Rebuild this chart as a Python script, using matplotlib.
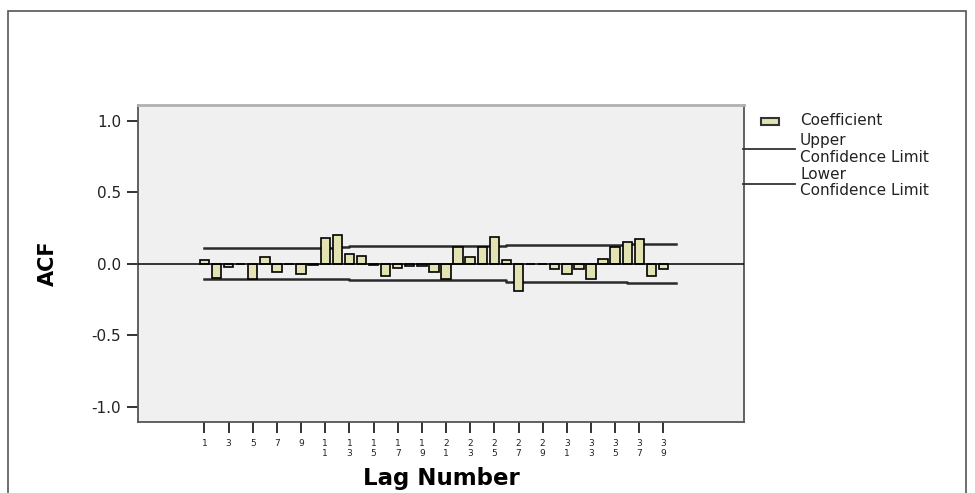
# ---------------------------------------------------------------------
#  Importando bibliotecas
# ---------------------------------------------------------------------

import matplotlib
matplotlib.use('Agg')
import matplotlib.pyplot as plt
from matplotlib.lines import Line2D
from matplotlib.patches import Rectangle

plt.rcParams['font.family'] = ['DejaVu Sans']

# ---------------------------------------------------------------------
#  Dados (ACF por lag)
# ---------------------------------------------------------------------

lags = list(range(1, 40))

acf = [0.025, -0.10, -0.025, -0.005, -0.11, 0.05, -0.06, -0.005, -0.07, -0.01,
       0.18, 0.20, 0.07, 0.055, -0.01, -0.088, -0.03, -0.018, -0.018, -0.055,
       -0.108, 0.115, 0.047, 0.118, 0.185, 0.025, -0.19, -0.005, -0.005, -0.04,
       -0.07, -0.04, -0.11, 0.03, 0.115, 0.15, 0.17, -0.085, -0.04]

upper_limit = [0.113, 0.113, 0.113, 0.113, 0.113, 0.113, 0.113, 0.113, 0.113, 0.113,
               0.113, 0.117, 0.125, 0.125, 0.125, 0.125, 0.125, 0.125, 0.125, 0.125,
               0.125, 0.125, 0.125, 0.125, 0.125, 0.132, 0.132, 0.132, 0.132, 0.132,
               0.132, 0.132, 0.132, 0.132, 0.132, 0.140, 0.140, 0.140, 0.140]

lower_limit = [-0.107, -0.107, -0.107, -0.107, -0.107, -0.107, -0.107, -0.107, -0.107, -0.107,
               -0.107, -0.110, -0.117, -0.117, -0.117, -0.117, -0.117, -0.117, -0.117, -0.117,
               -0.117, -0.117, -0.117, -0.117, -0.117, -0.127, -0.127, -0.127, -0.127, -0.127,
               -0.127, -0.127, -0.127, -0.127, -0.127, -0.134, -0.134, -0.134, -0.134]

x_ticks = [1, 3, 5, 7, 9, 11, 13, 15, 17, 19, 21, 23, 25, 27, 29, 31, 33, 35, 37, 39]
x_tick_labels = ['\n'.join(str(k)) for k in x_ticks]  # digitos empilhados, estilo SPSS

y_ticks = [-1.0, -0.5, 0.0, 0.5, 1.0]
y_tick_labels = ['-1.0', '-0.5', '0.0', '0.5', '1.0']

# ---------------------------------------------------------------------
#  Figura e eixos
# ---------------------------------------------------------------------

fig = plt.figure(figsize=(9.75, 4.93), dpi=100)
ax = fig.add_axes([0.1415, 0.144, 0.6215, 0.643])
ax.set_facecolor('#f0f0f0')

ax.bar(lags, acf, width=0.78, color='#e2e2b2', edgecolor='black', linewidth=1.2, zorder=3)

# linhas de confianca (degraus, de lag 1 ate 40)
ax.step(lags + [40], upper_limit + [upper_limit[-1]], where='post', color='#2a2a2a', linewidth=1.8, zorder=2)
ax.step(lags + [40], lower_limit + [lower_limit[-1]], where='post', color='#2a2a2a', linewidth=1.8, zorder=2)

ax.axhline(0, color='black', linewidth=1.1, zorder=4)

ax.set_xlim(-4.5, 45.66)
ax.set_ylim(-1.107, 1.11)

ax.set_xticks(x_ticks)
ax.set_xticklabels(x_tick_labels, fontsize=6.5, color='#333333', linespacing=1.15)
ax.set_yticks(y_ticks)
ax.set_yticklabels(y_tick_labels, fontsize=11, color='#222222')
ax.tick_params(axis='x', direction='out', length=8, width=1.3, pad=4, colors='#222222')
ax.tick_params(axis='y', direction='out', length=8, width=1.3, pad=4, colors='#222222')

for side in ['left', 'bottom', 'right']:
    ax.spines[side].set_color('#555555')
    ax.spines[side].set_linewidth(1.3)
ax.spines['top'].set_color('#b0b0b0')
ax.spines['top'].set_linewidth(2)

ax.set_ylabel('ACF', fontsize=15, fontweight='bold', labelpad=24)
ax.set_xlabel('Lag Number', fontsize=16.5, fontweight='bold', labelpad=7)

# ---------------------------------------------------------------------
#  Legenda manual (coordenadas da figura)
# ---------------------------------------------------------------------

W, H = 975.0, 493.0
fs_leg = 11

fig.patches.append(Rectangle((761 / W, 1 - 125 / H), 18 / W, 7 / H, transform=fig.transFigure,
                             facecolor='#e2e2b2', edgecolor='#333333', linewidth=1.5))
fig.text(800 / W, 1 - 120.5 / H, 'Coefficient', fontsize=fs_leg, va='center', ha='left', color='#222222')

fig.lines.append(Line2D([743 / W, 795 / W], [1 - 149.5 / H, 1 - 149.5 / H], transform=fig.transFigure,
                        color='#333333', linewidth=1.3))
fig.text(800 / W, 1 - 141 / H, 'Upper', fontsize=fs_leg, va='center', ha='left', color='#222222')
fig.text(800 / W, 1 - 157.5 / H, 'Confidence Limit', fontsize=fs_leg, va='center', ha='left', color='#222222')

fig.lines.append(Line2D([743 / W, 795 / W], [1 - 184.5 / H, 1 - 184.5 / H], transform=fig.transFigure,
                        color='#333333', linewidth=1.3))
fig.text(800 / W, 1 - 175 / H, 'Lower', fontsize=fs_leg, va='center', ha='left', color='#222222')
fig.text(800 / W, 1 - 191 / H, 'Confidence Limit', fontsize=fs_leg, va='center', ha='left', color='#222222')

# moldura externa
fig.patches.append(Rectangle((8 / W, -0.05), 958 / W, 1.05 - 11 / H, transform=fig.transFigure,
                             facecolor='none', edgecolor='#555555', linewidth=1.2))

plt.savefig('out.png', dpi=100)
